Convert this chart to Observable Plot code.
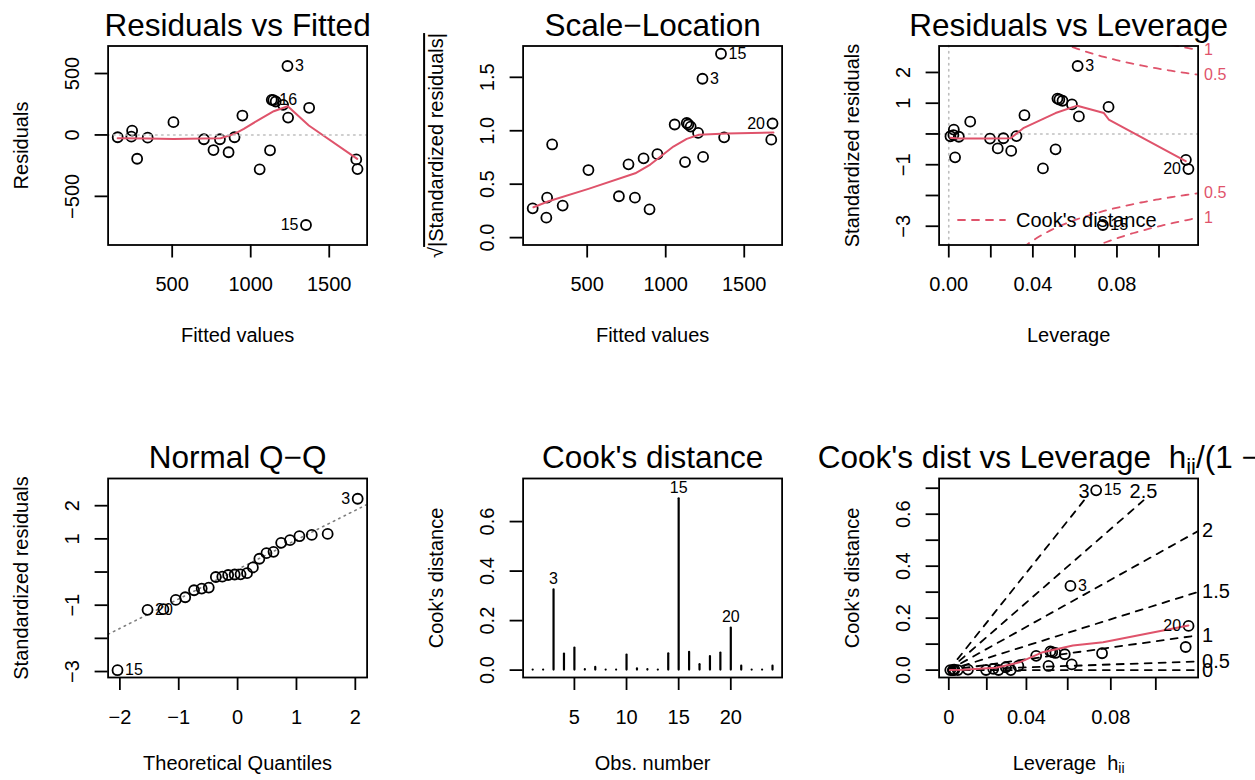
<!DOCTYPE html>
<html>
<head>
<meta charset="utf-8">
<script src="https://cdn.jsdelivr.net/npm/d3@7"></script>
<script src="https://cdn.jsdelivr.net/npm/@observablehq/plot@0.6"></script>
<style>
html, body { margin: 0; padding: 0; background: #fff; overflow: hidden; }
#root { position: relative; width: 1255px; height: 780px; overflow: hidden; background: #fff;
  font-family: "Liberation Sans", Arial, Helvetica, sans-serif; }
.panel { position: absolute; width: 418px; height: 390px; }
.legend { position: absolute; overflow: visible; }
</style>
</head>
<body>
<div id="root"></div>
<script>
const FONT = '"Liberation Sans", Arial, Helvetica, sans-serif';
const RED = "#DF536B";

const obsNum = [1, 2, 3, 4, 5, 6, 7, 8, 9, 10, 11, 12, 13, 14, 15, 16, 17, 18, 19, 20, 21, 22, 23, 24];
const fitted = [153, 240, 1234, 1372, 1672, 277, 859, 702, 897, 1206, 763, 508, 804, 1159, 1352, 1134, 1238, 1057, 1144, 1680, 947, 245, 344, 1123];
const residuals = [-19, -14, 561, 221, -199, -194, -141, -35, -19, 245, -123, 104, -35, 272, -733, 286, 141, -280, 283, -278, 158, 35, -22, -125];
const stdResiduals = [-0.075, -0.035, 2.21, 0.88, -0.84, -0.76, -0.55, -0.15, -0.07, 0.96, -0.47, 0.40, -0.14, 1.08, -2.96, 1.15, 0.57, -1.12, 1.12, -1.14, 0.61, 0.14, -0.09, -0.50];
const leverage = [0.0008, 0.0022, 0.0613, 0.0760, 0.1128, 0.0030, 0.0297, 0.0196, 0.0322, 0.0586, 0.0233, 0.0102, 0.0260, 0.0541, 0.0733, 0.0517, 0.0619, 0.0448, 0.0526, 0.1140, 0.0360, 0.0024, 0.0048, 0.0508];
const cooksD = [0.0001, 0.0000, 0.324, 0.065, 0.089, 0.002, 0.011, 0.0005, 0.0003, 0.061, 0.005, 0.002, 0.0005, 0.066, 0.692, 0.072, 0.022, 0.055, 0.069, 0.170, 0.016, 0.0001, 0.0001, 0.016];
const theoQuantiles = [-2.04, -1.53, -1.26, -1.05, -0.89, -0.74, -0.61, -0.49, -0.37, -0.26, -0.16, -0.05, 0.05, 0.16, 0.26, 0.37, 0.49, 0.61, 0.74, 0.89, 1.05, 1.26, 1.53, 2.04];

// ---------- red smoothing curves ----------
const smooth1Fitted = [153, 340, 508, 702, 808, 897, 956, 1062, 1147, 1236, 1370, 1678];
const smooth1Resid = [-27, -30, -34, -30, -27, 9, 50, 131, 193, 234, 77, -195];
const smooth2Fitted = [158, 254, 508, 806, 902, 1049, 1134, 1212, 1388, 1686];
const smooth2Root = [0.284, 0.34, 0.456, 0.602, 0.684, 0.852, 0.924, 0.962, 0.975, 0.983];
const smooth3Lev = [0.0008, 0.0048, 0.019, 0.0294, 0.0357, 0.0508, 0.0611, 0.0738, 0.0761, 0.1127];
const smooth3Std = [-0.124, -0.146, -0.146, -0.137, 0.20, 0.68, 0.92, 0.68, 0.47, -0.885];
const smooth6Ratio = [0.0006, 0.0074, 0.0254, 0.0379, 0.0505, 0.0666, 0.0828, 0.1286];
const smooth6Cook = [0, 0.001, 0.009, 0.030, 0.069, 0.095, 0.107, 0.172];

// ---------- reference guides ----------
const qqIntercept = 0.08, qqSlope = 0.89;
const cookLevels = [0.5, 1];
const modelRank = 1;
const bvals = [0, 0.5, 1, 1.5, 2, 2.5, 3];
const bvalTopEnd = 0.653, bvalTopLabel = 0.662;

// ---------- labelled observations ----------
const p1LabelRight = [3, 16], p1LabelLeft = [15];
const p2LabelRight = [15, 3], p2LabelLeft = [20];
const p3LabelRight = [3, 15], p3LabelLeft = [20];
const p4LabelRight = [15, 20], p4LabelLeft = [3];
const p5Labels = [3, 15, 20];
const p6LabelRight = [3, 15], p6LabelLeft = [20];

// ---------- texts ----------
const panelTitles = ["Residuals vs Fitted", "Scale\u2212Location", "Residuals vs Leverage", "Normal Q\u2212Q", "Cook's distance", "Cook's dist vs Leverage  h_ii/(1 \u2212 h_ii)"];
const xAxisTitles = ["Fitted values", "Fitted values", "Leverage", "Theoretical Quantiles", "Obs. number", "Leverage  h_ii"];
const yAxisTitles = ["Residuals", "\u221A|Standardized residuals|", "Standardized residuals", "Standardized residuals", "Cook's distance", "Cook's distance"];
const legendLabel = "Cook's distance";

// ---------- ticks ----------
const fitTicks = [500, 1000, 1500], fitTickLabels = ["500", "1000", "1500"];
const p1YTicks = [-500, 0, 500], p1YTickLabels = ["\u2212500", "0", "500"];
const p2YTicks = [0, 0.5, 1, 1.5], p2YTickLabels = ["0.0", "0.5", "1.0", "1.5"];
const levTicks = [0, 0.02, 0.04, 0.06, 0.08, 0.10], levTickLabels = ["0.00", "", "0.04", "", "0.08", ""];
const stdTicks = [-3, -2, -1, 0, 1, 2], stdTickLabels = ["\u22123", "", "\u22121", "", "1", "2"];
const p4XTicks = [-2, -1, 0, 1, 2], p4XTickLabels = ["\u22122", "\u22121", "0", "1", "2"];
const p5XTicks = [5, 10, 15, 20], p5XTickLabels = ["5", "10", "15", "20"];
const p5YTicks = [0, 0.2, 0.4, 0.6], p5YTickLabels = ["0.0", "0.2", "0.4", "0.6"];
const p6LevTicks = [0, 0.02, 0.04, 0.06, 0.08, 0.10], p6LevTickLabels = ["0", "", "0.04", "", "0.08", ""];
const p6YTicks = [0, 0.1, 0.2, 0.3, 0.4, 0.5, 0.6, 0.7], p6YTickLabels = ["0.0", "", "0.2", "", "0.4", "", "0.6", ""];

// ---------- axis ranges ----------
const fitDomain = [92, 1741];
const p1YDomain = [-896, 724];
const p2YDomain = [-0.069, 1.793];
const p3XDomain = [-0.0046, 0.1186], p3YDomain = [-3.61, 2.86];
const p4XDomain = [-2.2, 2.2], p4YDomain = [-3.18, 2.82];
const p5XDomain = [0.08, 24.92], p5YDomain = [-0.0298, 0.774];
const p6XDomain = [-0.0052, 0.1338], p6YDomain = [-0.0284, 0.7374];

// ---------- table ----------
const rows = obsNum.map((o, i) => ({
  o, fit: fitted[i], res: residuals[i], sr: stdResiduals[i],
  root: Math.sqrt(Math.abs(stdResiduals[i])), lev: leverage[i],
  ratio: leverage[i] / (1 - leverage[i]), cook: cooksD[i]
}));
const qqRows = rows.slice().sort((a, b) => a.sr - b.sr).map((d, i) => ({...d, theo: theoQuantiles[i]}));

const root = document.getElementById("root");
const LW = 1.8;
const dotted = (color) => ({stroke: color, strokeWidth: 1.6, strokeDasharray: "1.5,4.5", strokeLinecap: "round"});
const pts = (data, x, y) => Plot.dot(data, {x, y, r: 5, fill: "none", stroke: "black", strokeWidth: LW});
const curve = (X, Y, opts = {}) => Plot.line({length: X.length}, {x: X, y: Y, stroke: RED, strokeWidth: 2, ...opts});
const ids = (data, list, x, y, side) => Plot.text(data.filter(d => list.includes(d.o)), {
  x, y, text: d => String(d.o), dx: side === "right" ? 7.5 : -7.5,
  textAnchor: side === "right" ? "start" : "end", fontSize: 16
});

function decorations(k, row, xt, xtl, yt, ytl, titleOpts = {}) {
  const xl = xt.filter((d, i) => xtl[i] !== "");
  const yl = yt.filter((d, i) => ytl[i] !== "");
  return [
    Plot.axisX(xt, {anchor: "bottom", tickSize: 13, strokeWidth: LW, fill: "none", label: null}),
    Plot.axisX(xl, {anchor: "bottom", tickSize: 0, tickPadding: 32, fontSize: 20, tickFormat: v => xtl[xt.indexOf(v)], label: null}),
    Plot.axisY(yt, {anchor: "left", tickSize: 13, strokeWidth: LW, fill: "none", label: null}),
    Plot.axisY(yl, {anchor: "left", tickSize: 0, tickPadding: 29, tickRotate: -90, fontSize: 20, tickFormat: v => ytl[yt.indexOf(v)], label: null}),
    Plot.frame({stroke: "black", strokeWidth: LW}),
    Plot.text([panelTitles[k]], {text: d => d, frameAnchor: "top", dy: -10.5, textAnchor: "middle", lineAnchor: "bottom", fontSize: 31.5, ...titleOpts}),
    Plot.text([xAxisTitles[k]], {text: d => d, frameAnchor: "bottom", dy: row === 0 ? 97 : 92, textAnchor: "middle", lineAnchor: "bottom", fontSize: 20}),
    Plot.text([yAxisTitles[k]], {text: d => d, frameAnchor: "left", dx: -80, rotate: -90, textAnchor: "middle", lineAnchor: "bottom", fontSize: 20})
  ];
}

function mathify(svg) {
  d3.select(svg).selectAll("text").each(function() {
    const t = this.textContent;
    const el = d3.select(this);
    if (t.includes("_ii")) {
      const parts = t.split("_ii");
      el.text(null);
      parts.forEach((p, i) => {
        if (p) el.append("tspan").attr("dy", i > 0 ? "-0.175em" : null).text(p);
        if (i < parts.length - 1) el.append("tspan").attr("font-size", "70%").attr("dy", "0.25em").text("ii");
      });
    } else if (t.startsWith("\u221A")) {
      el.text(null);
      el.append("tspan").text("\u221A");
      el.append("tspan").style("text-decoration", "overline").text(t.slice(1));
    }
  });
}

function panel(col, row, xDomain, yDomain, marks) {
  const svg = Plot.plot({
    width: 418, height: 390,
    marginLeft: 107.6, marginRight: 51.4,
    marginTop: row === 0 ? 45.5 : 88,
    marginBottom: row === 0 ? 145.5 : 103,
    x: {domain: xDomain, axis: null},
    y: {domain: yDomain, axis: null},
    style: {fontFamily: FONT, fontSize: "20px", overflow: "visible", background: "transparent", color: "black"},
    marks
  });
  mathify(svg);
  const div = document.createElement("div");
  div.className = "panel";
  div.style.left = (col * 415.4) + "px";
  div.style.top = (row * 390) + "px";
  div.appendChild(svg);
  root.appendChild(div);
}

// ---- Panel 1: Residuals vs Fitted ----
panel(0, 0, fitDomain, p1YDomain, [
  pts(rows, "fit", "res"),
  curve(smooth1Fitted, smooth1Resid),
  Plot.ruleY([0], dotted("#BEBEBE")),
  ids(rows, p1LabelRight, "fit", "res", "right"),
  ids(rows, p1LabelLeft, "fit", "res", "left"),
  ...decorations(0, 0, fitTicks, fitTickLabels, p1YTicks, p1YTickLabels)
]);

// ---- Panel 2: Scale-Location ----
panel(1, 0, fitDomain, p2YDomain, [
  pts(rows, "fit", "root"),
  curve(smooth2Fitted, smooth2Root),
  ids(rows, p2LabelRight, "fit", "root", "right"),
  ids(rows, p2LabelLeft, "fit", "root", "left"),
  ...decorations(1, 0, fitTicks, fitTickLabels, p2YTicks, p2YTickLabels)
]);

// ---- Panel 3: Residuals vs Leverage ----
const p3xmax = p3XDomain[1];
const hMin = d3.min(leverage);
const contour = [];
for (const crit of cookLevels) for (const sgn of [1, -1]) for (let j = 0; j <= 100; j++) {
  const h = hMin + (p3xmax - hMin) * j / 100;
  contour.push({h, r: sgn * Math.sqrt(crit * modelRank * (1 - h) / h), key: crit + ":" + sgn});
}
const ymult = Math.sqrt(modelRank * (1 - p3xmax) / p3xmax);
const cookAxis = cookLevels.flatMap(c => [{y: Math.sqrt(c) * ymult, t: String(c)}, {y: -Math.sqrt(c) * ymult, t: String(c)}]);
panel(2, 0, p3XDomain, p3YDomain, [
  Plot.ruleY([0], dotted("#BEBEBE")),
  Plot.ruleX([0], dotted("#BEBEBE")),
  pts(rows, "lev", "sr"),
  curve(smooth3Lev, smooth3Std),
  Plot.line(contour, {x: "h", y: "r", z: "key", stroke: RED, strokeWidth: LW, strokeDasharray: "7,7", strokeLinecap: "round", clip: true}),
  Plot.text(cookAxis, {y: "y", text: "t", frameAnchor: "right", dx: 6, textAnchor: "start", fill: RED, fontSize: 16}),
  ids(rows, p3LabelRight, "lev", "sr", "right"),
  ids(rows, p3LabelLeft, "lev", "sr", "left"),
  ...decorations(2, 0, levTicks, levTickLabels, stdTicks, stdTickLabels)
]);

// legend for panel 3
const leg = d3.select(root).append("svg").attr("class", "legend")
  .style("left", "940px").style("top", "205px").attr("width", 260).attr("height", 30);
leg.append("line").attr("x1", 18).attr("x2", 65).attr("y1", 15).attr("y2", 15)
  .attr("stroke", RED).attr("stroke-width", LW).attr("stroke-dasharray", "7,7").attr("stroke-linecap", "round");
leg.append("text").attr("x", 76).attr("y", 22).attr("font-size", 20).attr("font-family", FONT).attr("fill", "black").text(legendLabel);

// ---- Panel 4: Normal Q-Q ----
panel(0, 1, p4XDomain, p4YDomain, [
  Plot.line(p4XDomain, {x: d => d, y: d => qqIntercept + qqSlope * d, ...dotted("#7F7F7F"), clip: true}),
  pts(qqRows, "theo", "sr"),
  ids(qqRows, p4LabelRight, "theo", "sr", "right"),
  ids(qqRows, p4LabelLeft, "theo", "sr", "left"),
  ...decorations(3, 1, p4XTicks, p4XTickLabels, stdTicks, stdTickLabels)
]);

// ---- Panel 5: Cook's distance ----
panel(1, 1, p5XDomain, p5YDomain, [
  Plot.ruleX(rows, {x: "o", y1: 0, y2: "cook", stroke: "black", strokeWidth: 2.2, strokeLinecap: "round"}),
  Plot.text(rows.filter(d => p5Labels.includes(d.o)), {x: "o", y: "cook", text: d => String(d.o), dy: -6, lineAnchor: "bottom", fontSize: 16}),
  ...decorations(4, 1, p5XTicks, p5XTickLabels, p5YTicks, p5YTickLabels)
]);

// ---- Panel 6: Cook's dist vs Leverage ----
const p6xmax = p6XDomain[1], p6ymax = p6YDomain[1];
const bLines = [], bRight = [], bTop = [];
for (const b of bvals) {
  const b2 = b * b;
  if (modelRank * p6ymax > b2 * p6xmax) {
    bLines.push({b, x: 0, y: 0}, {b, x: p6xmax, y: b2 * p6xmax / modelRank});
    bRight.push({b, y: b2 * p6xmax / modelRank});
  } else {
    const xe = modelRank * bvalTopEnd / b2;
    bLines.push({b, x: 0, y: 0}, {b, x: xe, y: bvalTopEnd});
    bTop.push({b, x: xe});
  }
}
const p6Ticks = p6LevTicks.map(a => a / (1 - a));
panel(2, 1, p6XDomain, p6YDomain, [
  Plot.line(bLines, {x: "x", y: "y", z: "b", stroke: "black", strokeWidth: LW, strokeDasharray: "7,7", strokeLinecap: "round", clip: true}),
  Plot.text(bRight, {x: p6xmax, y: "y", text: d => String(d.b), dx: 4, textAnchor: "start", fontSize: 20}),
  Plot.text(bTop, {x: "x", y: bvalTopLabel, text: d => String(d.b), textAnchor: "middle", lineAnchor: "bottom", fontSize: 20}),
  pts(rows, "ratio", "cook"),
  curve(smooth6Ratio, smooth6Cook),
  ids(rows, p6LabelRight, "ratio", "cook", "right"),
  ids(rows, p6LabelLeft, "ratio", "cook", "left"),
  ...decorations(5, 1, p6Ticks, p6LevTickLabels, p6YTicks, p6YTickLabels,
    {frameAnchor: "top-left", textAnchor: "start", dx: -121.4})
]);
</script>
</body>
</html>
